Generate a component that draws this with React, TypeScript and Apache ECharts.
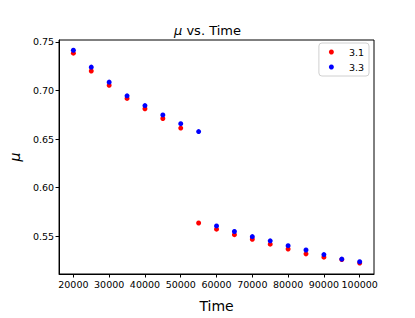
import React, { useEffect, useRef } from "react";
import * as echarts from "echarts";

const times = [20000, 25000, 30000, 35000, 40000, 45000, 50000, 55000, 60000, 65000, 70000, 75000, 80000, 85000, 90000, 95000, 100000];
const mu31 = [0.7383, 0.7199, 0.7052, 0.6918, 0.6811, 0.6711, 0.6613, 0.5637, 0.5574, 0.5517, 0.547, 0.542, 0.537, 0.532, 0.5286, 0.5262, 0.5226];
const mu33 = [0.7413, 0.7239, 0.7085, 0.6944, 0.6844, 0.6748, 0.6658, 0.6577, 0.5607, 0.555, 0.5497, 0.5454, 0.5404, 0.536, 0.5313, 0.5266, 0.5239];
const xTicks = [20000, 30000, 40000, 50000, 60000, 70000, 80000, 90000, 100000];
const yTicks = [0.55, 0.6, 0.65, 0.7, 0.75];

export default function App() {
  const ref = useRef<HTMLDivElement>(null);
  useEffect(() => {
    document.body.style.margin = "0";
    const chart = echarts.init(ref.current!, null, { renderer: "svg" });
    const font = "DejaVu Sans";
    chart.setOption({
      animation: false,
      backgroundColor: "#fff",
      textStyle: { fontFamily: font },
      title: {
        text: "{i|μ} vs. Time",
        left: "center",
        top: 19,
        textStyle: {
          fontFamily: font,
          fontWeight: "normal",
          fontSize: 13,
          color: "#000",
          rich: { i: { fontStyle: "italic", fontFamily: font, fontSize: 13, color: "#000" } },
        },
      },
      legend: {
        top: 43,
        right: 46,
        orient: "vertical",
        borderColor: "#d0d0d0",
        borderWidth: 1,
        borderRadius: 3,
        padding: [4, 5, 4, 10],
        itemGap: 5,
        itemWidth: 5,
        itemHeight: 5,
        icon: "circle",
        textStyle: { fontFamily: font, fontSize: 9.5, color: "#000", padding: [0, 0, 0, 10] },
        data: ["3.1", "3.3"],
      },
      grid: {
        left: 52,
        right: 41,
        top: 40,
        bottom: 40,
        show: true,
        borderColor: "#000",
        borderWidth: 1,
        backgroundColor: "#fff",
      },
      xAxis: {
        type: "value",
        min: 16000,
        max: 104000,
        name: "Time",
        nameLocation: "middle",
        nameGap: 25,
        nameTextStyle: { fontFamily: font, fontSize: 14, color: "#000" },
        axisLine: { show: true, lineStyle: { color: "#000" } },
        axisTick: { show: true, length: 3.5, customValues: xTicks, lineStyle: { color: "#000" } },
        axisLabel: {
          customValues: xTicks,
          fontFamily: font,
          fontSize: 9.5,
          color: "#000",
          margin: 5,
          formatter: (v: number) => String(v),
        },
        splitLine: { show: false },
      },
      yAxis: {
        type: "value",
        min: 0.5113,
        max: 0.7518,
        name: "μ",
        nameLocation: "middle",
        nameGap: 30,
        nameTextStyle: { fontFamily: font, fontSize: 14, fontStyle: "italic", color: "#000" },
        axisLine: { show: true, lineStyle: { color: "#000" } },
        axisTick: { show: true, length: 3.5, customValues: yTicks, lineStyle: { color: "#000" } },
        axisLabel: {
          customValues: yTicks,
          fontFamily: font,
          fontSize: 9.5,
          color: "#000",
          margin: 5,
          formatter: (v: number) => v.toFixed(2),
        },
        splitLine: { show: false },
      },
      series: [
        {
          name: "3.1",
          type: "scatter",
          symbolSize: 5,
          itemStyle: { color: "#ff0000", opacity: 1 },
          data: times.map((t, i) => [t, mu31[i]]),
        },
        {
          name: "3.3",
          type: "scatter",
          symbolSize: 5,
          itemStyle: { color: "#0000ff", opacity: 1 },
          data: times.map((t, i) => [t, mu33[i]]),
        },
      ],
    });
    return () => chart.dispose();
  }, []);
  return <div ref={ref} style={{ width: 415, height: 318 }} />;
}
